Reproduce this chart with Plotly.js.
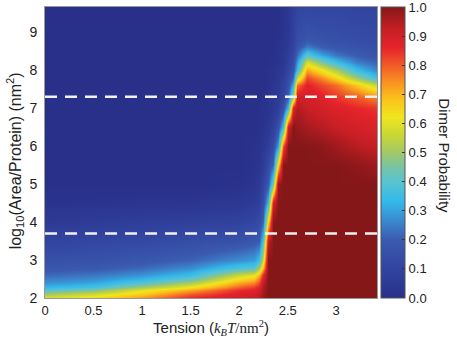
<!DOCTYPE html>
<html>
<head>
<meta charset="utf-8">
<script src="https://cdn.plot.ly/plotly-3.0.1.min.js"></script>
<style>
  html, body { margin:0; padding:0; background:#fff; }
  #plot { width:457px; height:340px; }
</style>
</head>
<body>
<div id="plot"></div>
<script>
// tension (kBT/nm^2)
const tension = [0, 0.5, 1.0, 1.5, 2.0, 2.15, 2.2, 2.25, 2.3, 2.35, 2.4, 2.45, 2.5, 2.55, 2.6, 2.7, 2.85, 3.0, 3.2, 3.42];
// log10 area per protein
const logArea = [2.0, 2.1, 2.2, 2.3, 2.4, 2.5, 2.6, 2.8, 3.0, 3.5, 4.0, 4.5, 5.0, 5.5, 6.0, 6.5, 7.0, 7.3, 7.6, 7.8, 8.0, 8.2, 8.4, 8.6, 8.8, 9.2, 9.66];
// dimer probability, one row per logArea value
const dimerProb = [
  [0.60,0.65,0.74,0.86,0.90,0.92,0.94,0.97,1,1,1,1,1,1,1,1,1,1,1,1],
  [0.50,0.57,0.67,0.80,0.88,0.90,0.92,0.97,1,1,1,1,1,1,1,1,1,1,1,1],
  [0.40,0.46,0.60,0.72,0.85,0.87,0.90,0.96,1,1,1,1,1,1,1,1,1,1,1,1],
  [0.33,0.37,0.50,0.62,0.79,0.83,0.87,0.95,1,1,1,1,1,1,1,1,1,1,1,1],
  [0.28,0.31,0.40,0.52,0.72,0.76,0.82,0.93,1,1,1,1,1,1,1,1,1,1,1,1],
  [0.25,0.27,0.33,0.42,0.64,0.68,0.77,0.90,1,1,1,1,1,1,1,1,1,1,1,1],
  [0.22,0.24,0.28,0.35,0.56,0.60,0.70,0.86,1,1,1,1,1,1,1,1,1,1,1,1],
  [0.18,0.19,0.22,0.27,0.38,0.40,0.50,0.70,1,1,1,1,1,1,1,1,1,1,1,1],
  [0.15,0.16,0.18,0.21,0.27,0.29,0.35,0.57,1,1,1,1,1,1,1,1,1,1,1,1],
  [0.10,0.11,0.12,0.14,0.16,0.18,0.20,0.38,0.92,1,1,1,1,1,1,1,1,1,1,1],
  [0.05,0.06,0.07,0.08,0.09,0.11,0.13,0.22,0.65,1,1,1,1,1,1,1,1,1,1,1],
  [0.02,0.02,0.03,0.03,0.04,0.06,0.08,0.15,0.35,0.90,1,1,1,1,1,1,1,1,1,1],
  [0,0,0,0,0.01,0.03,0.05,0.10,0.18,0.45,0.98,1,1,1,1,1,1,1,1,1],
  [0,0,0,0,0,0.02,0.03,0.06,0.12,0.22,0.65,1,1,1,1,1,1,1,0.99,0.97],
  [0,0,0,0,0,0.01,0.02,0.04,0.07,0.13,0.30,0.80,1,1,1,1,0.99,0.97,0.94,0.92],
  [0,0,0,0,0,0,0.01,0.02,0.04,0.08,0.15,0.35,0.90,1,0.98,0.96,0.94,0.92,0.90,0.88],
  [0,0,0,0,0,0,0,0.01,0.02,0.04,0.07,0.15,0.35,0.88,0.95,0.92,0.90,0.88,0.86,0.84],
  [0,0,0,0,0,0,0,0.01,0.02,0.04,0.06,0.10,0.20,0.50,0.90,0.90,0.87,0.84,0.80,0.75],
  [0,0,0,0,0,0,0,0,0.01,0.03,0.05,0.08,0.15,0.32,0.78,0.87,0.82,0.78,0.68,0.55],
  [0,0,0,0,0,0,0,0,0.01,0.02,0.04,0.07,0.13,0.22,0.55,0.82,0.75,0.66,0.50,0.36],
  [0,0,0,0,0,0,0,0,0.01,0.02,0.03,0.05,0.10,0.16,0.35,0.72,0.62,0.52,0.35,0.26],
  [0,0,0,0,0,0,0,0,0,0.01,0.02,0.04,0.08,0.13,0.28,0.58,0.45,0.35,0.25,0.21],
  [0,0,0,0,0,0,0,0,0,0.01,0.02,0.04,0.07,0.12,0.22,0.40,0.30,0.24,0.20,0.17],
  [0,0,0,0,0,0,0,0,0,0,0.02,0.03,0.06,0.10,0.17,0.25,0.20,0.18,0.16,0.15],
  [0,0,0,0,0,0,0,0,0,0,0.01,0.03,0.05,0.09,0.14,0.18,0.16,0.15,0.14,0.13],
  [0,0,0,0,0,0,0,0,0,0,0,0.02,0.04,0.08,0.12,0.14,0.13,0.13,0.12,0.11],
  [0,0,0,0,0,0,0,0,0,0,0,0.02,0.04,0.07,0.10,0.11,0.11,0.11,0.10,0.10]
];
// the two dashed reference levels
const refLevels = [7.3, 3.7];
const colorbarTicks = [0, 0.1, 0.2, 0.3, 0.4, 0.5, 0.6, 0.7, 0.8, 0.9, 1.0];

const colorStops = [0, 0.1, 0.2, 0.25, 0.33, 0.4, 0.45, 0.5, 0.56, 0.62, 0.68, 0.74, 0.8, 0.86, 0.92, 1];
const colorHex = ['#28308a','#3244a0','#3a5bb0','#3c7ec8','#34b8ea','#58c4d0','#78c3a4','#a2c868',
                  '#cad636','#eee61e','#fbc51a','#f89420','#f05a28','#e6232b','#c81f25','#861719'];

const font = 'Liberation Sans, Arial, sans-serif';
const serif = 'Liberation Serif, Times New Roman, serif';

const data = [{
  type:'heatmap',
  x:tension,
  y:logArea,
  z:dimerProb,
  zmin:0, zmax:1,
  zsmooth:'best',
  colorscale:colorStops.map((s, i) => [s, colorHex[i]]),
  hoverinfo:'skip',
  colorbar:{
    x:1.012, xanchor:'left', xpad:0,
    y:0.5, yanchor:'middle', len:1, ypad:0,
    thickness:24,
    outlinewidth:1, outlinecolor:'#555',
    ticks:'inside', ticklen:3, tickcolor:'#333',
    tickvals:colorbarTicks,
    ticktext:colorbarTicks.map(v => v.toFixed(1)),
    ticklabeloverflow:'allow',
    tickfont:{ family:font, size:13, color:'#222' }
  }
}];

const layout = {
  width:457, height:340,
  margin:{ l:45, r:80, t:7, b:42 },
  paper_bgcolor:'#fff', plot_bgcolor:'#fff',
  font:{ family:font, color:'#222' },
  xaxis:{
    range:[0, 3.42], tick0:0, dtick:0.5,
    ticks:'', showgrid:false, zeroline:false,
    showline:true, linecolor:'#999', linewidth:1, mirror:true,
    tickfont:{ size:13 },
    title:{ text:'Tension (<i style="font-family:' + serif + '">k<sub>B</sub>T</i><span style="font-family:' + serif + '">/nm<sup>2</sup></span>)',
            font:{ size:15 }, standoff:4 }
  },
  yaxis:{
    range:[2, 9.66], tick0:2, dtick:1,
    ticks:'', showgrid:false, zeroline:false,
    showline:true, linecolor:'#999', linewidth:1, mirror:true,
    tickfont:{ size:14 }, ticklabelstandoff:4
  },
  shapes:refLevels.map(v => ({
    type:'line', xref:'x', yref:'y', x0:0, x1:3.42, y0:v, y1:v,
    line:{ color:'#f2f2ee', width:2.5, dash:'12px,8px' }
  })),
  annotations:[
    { text:'log<sub>10</sub>(Area/Protein) (nm<sup>2</sup>)', xref:'paper', yref:'paper',
      x:-0.09, y:0.47, xanchor:'center', yanchor:'middle', textangle:-90, showarrow:false,
      font:{ size:16 } },
    { text:'Dimer Probability', xref:'paper', yref:'paper',
      x:1.205, y:0.49, xanchor:'center', yanchor:'middle', textangle:90, showarrow:false,
      font:{ size:15 } }
  ]
};

Plotly.newPlot('plot', data, layout, { displayModeBar:false, staticPlot:true });
</script>
</body>
</html>
